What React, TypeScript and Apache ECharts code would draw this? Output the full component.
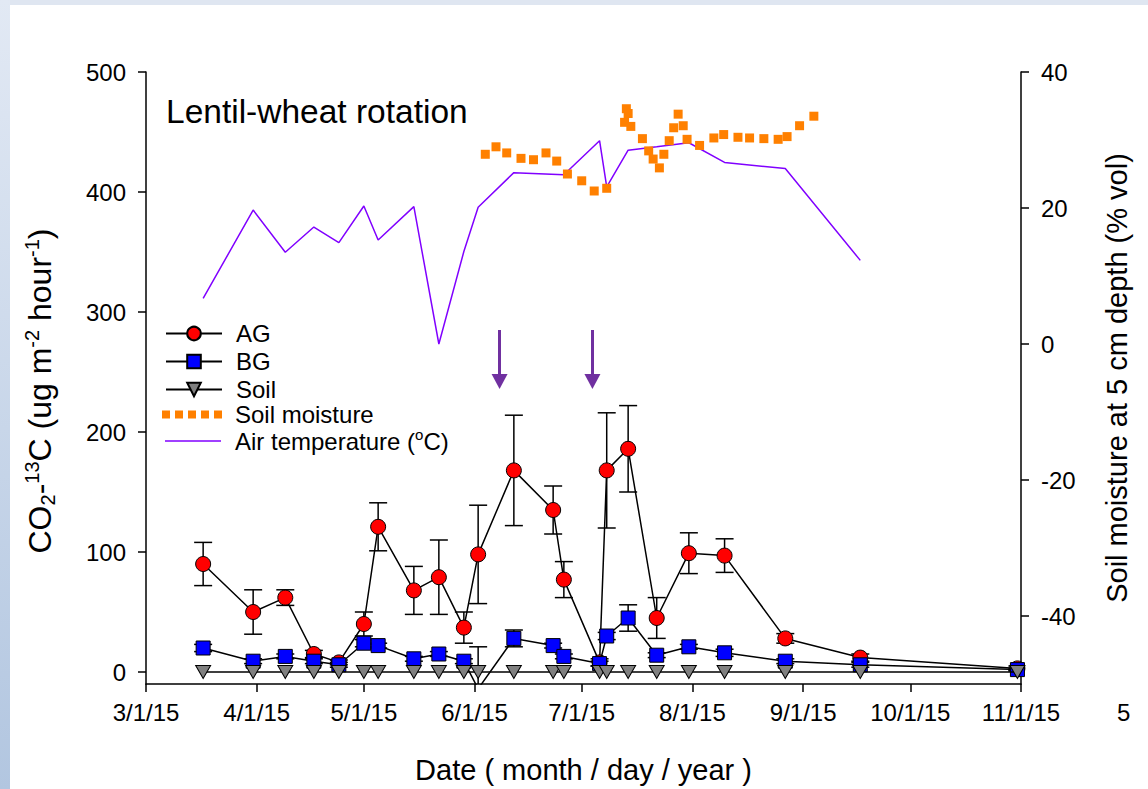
import React, { useEffect, useRef } from 'react';
import * as echarts from 'echarts';

// ---------- data ----------
const sampleDates = ['2015-03-17', '2015-03-31', '2015-04-09', '2015-04-17', '2015-04-24', '2015-05-01', '2015-05-05', '2015-05-15', '2015-05-22', '2015-05-29', '2015-06-02', '2015-06-12', '2015-06-23', '2015-06-26', '2015-07-06', '2015-07-08', '2015-07-14', '2015-07-22', '2015-07-31', '2015-08-10', '2015-08-27', '2015-09-17', '2015-10-31'];
const agMean = [90, 50, 62, 15, 8, 40, 121, 68, 79, 37, 98, 168, 135, 77, 8, 168, 186, 45, 99, 97, 28, 12, 3];
const agErr = [18, 18.5, 6.5, 3, 2, 10, 20, 20, 31, 13, 41, 46, 20, 15, 3, 48, 36, 17, 17, 14, 4, 3, 2];
const bgMean = [20, 9, 13, 9, 6, 24, 22, 11, 15, 9, -14, 28, 22, 13, 7, 30, 45, 14, 21, 16, 9, 6, 2];
const bgErr = [3, 2, 2, 2, 2, 3, 2, 2, 2, 2, 35, 7, 2, 2, 2, 3, 11, 2, 2, 3, 2, 2, 1];
const soilMean = [0, 0, 0, 0, 0, 0, 0, 0, 0, 0, 0, 0, 0, 0, 0, 0, 0, 0, 0, 0, 0, 0, 0];

const moistureDates = ['2015-06-04', '2015-06-07', '2015-06-10', '2015-06-14', '2015-06-17T12:00', '2015-06-21', '2015-06-24', '2015-06-27', '2015-07-01', '2015-07-04T12:00', '2015-07-08', '2015-07-13', '2015-07-13T12:00', '2015-07-14', '2015-07-14T18:00', '2015-07-18', '2015-07-19T18:00', '2015-07-21', '2015-07-22T18:00', '2015-07-24', '2015-07-25T12:00', '2015-07-26T18:00', '2015-07-28', '2015-07-29T10:00', '2015-07-30T12:00', '2015-08-03', '2015-08-07', '2015-08-09T18:00', '2015-08-13T18:00', '2015-08-17', '2015-08-21', '2015-08-25', '2015-08-27T12:00', '2015-08-31', '2015-09-04'];
const moistureValues = [27.9, 29.0, 28.1, 27.3, 27.1, 28.1, 26.9, 25.0, 24.0, 22.5, 22.9, 32.6, 34.6, 33.9, 32.0, 30.2, 28.4, 27.2, 25.9, 27.9, 29.9, 31.8, 33.8, 32.1, 30.1, 29.2, 30.3, 30.8, 30.4, 30.3, 30.2, 30.1, 30.5, 32.1, 33.5];

const tempDates = ['2015-03-17', '2015-03-31', '2015-04-09', '2015-04-17', '2015-04-24', '2015-05-01', '2015-05-05', '2015-05-15', '2015-05-22', '2015-05-29', '2015-06-02', '2015-06-12', '2015-06-26', '2015-07-06', '2015-07-08', '2015-07-14', '2015-07-22', '2015-07-31', '2015-08-10', '2015-08-27', '2015-09-17'];
const tempValues = [6.7, 19.7, 13.5, 17.2, 14.9, 20.3, 15.3, 20.2, 0.0, 13.6, 20.1, 25.2, 24.9, 29.9, 23.1, 28.5, 29.0, 29.6, 26.7, 25.8, 12.3];

const xTickDates = ['2015-03-01', '2015-04-01', '2015-05-01', '2015-06-01', '2015-07-01', '2015-08-01', '2015-09-01', '2015-10-01', '2015-11-01'];
const leftTicks = [0, 100, 200, 300, 400, 500];
const rightTicks = [-40, -20, 0, 20, 40];

const arrowDates = ['2015-06-08', '2015-07-04'];
const arrowFrom = 285;
const arrowTo = 242;

// ---------- helpers ----------
const ts = (s: string) => Date.parse(s.length === 10 ? s + 'T00:00:00Z' : s + ':00Z');
const FONT = "'Liberation Sans', Arial, Helvetica, sans-serif";

export default function App() {
  const ref = useRef<HTMLDivElement>(null);

  useEffect(() => {
    if (!ref.current) return;
    const chart = echarts.init(ref.current, null, { renderer: 'svg' });

    const errBar = (means: number[], errs: number[]) =>
      sampleDates.map((d, i) => [ts(d), means[i], errs[i]]);

    const renderErr = (params: any, api: any) => {
      const x = api.value(0);
      const m = api.value(1);
      const e = api.value(2);
      const top = api.coord([x, m + e]);
      const bot = api.coord([x, m - e]);
      const hw = 9;
      const st = { stroke: '#000', lineWidth: 1.5 };
      return {
        type: 'group',
        children: [
          { type: 'line', shape: { x1: top[0], y1: top[1], x2: bot[0], y2: bot[1] }, style: st },
          { type: 'line', shape: { x1: top[0] - hw, y1: top[1], x2: top[0] + hw, y2: top[1] }, style: st },
          { type: 'line', shape: { x1: bot[0] - hw, y1: bot[1], x2: bot[0] + hw, y2: bot[1] }, style: st },
        ],
      };
    };

    const axisLineStyle = { color: '#000', width: 1.5 };
    const labelBase = { color: '#000', fontSize: 24, fontFamily: FONT };

    const legendText = { color: '#000', fontSize: 24, fontFamily: FONT, lineHeight: 17, padding: [0, 0, 0, 9] };

    const option: any = {
      animation: false,
      backgroundColor: '#ffffff',
      title: {
        text: 'Lentil-wheat rotation',
        left: 166,
        top: 94,
        padding: 0,
        textStyle: { fontSize: 33.5, fontWeight: 'normal', color: '#000', fontFamily: FONT },
      },
      graphic: [
        { type: 'rect', left: 0, top: 0, shape: { width: 1148, height: 5 }, style: { fill: '#dfe6f1' }, silent: true },
        {
          type: 'rect', left: 0, top: 0, shape: { width: 10, height: 789 }, silent: true,
          style: {
            fill: new echarts.graphic.LinearGradient(0, 0, 0, 1, [
              { offset: 0, color: '#e2e9f4' },
              { offset: 1, color: '#b2c6e0' },
            ]),
          },
        },
        { type: 'text', left: 1117, top: 700, style: { text: '5', fontSize: 24, fill: '#000', fontFamily: FONT }, silent: true },
      ],
      grid: { left: 146, right: 127, top: 72, bottom: 105, containLabel: false, outerBoundsMode: 'none' },
      legend: [
        {
          data: ['AG', 'BG', 'Soil'],
          orient: 'vertical', left: 165, top: 321.5, padding: 0,
          itemWidth: 56, itemHeight: 17, itemGap: 4, selectedMode: false,
          textStyle: legendText,
        },
        {
          data: [{ name: 'Soil moisture', icon: 'path://M0,0h8v8h-8z M13,0h8v8h-8z M26,0h8v8h-8z M39,0h8v8h-8z M52,0h8v8h-8z' }],
          orient: 'vertical', left: 162, top: 402.5, padding: 0,
          itemWidth: 60, itemHeight: 8, selectedMode: false,
          textStyle: { ...legendText, padding: [0, 0, 0, 8] },
        },
        {
          data: [{ name: 'Air temperature', icon: 'path://M0,0h56v1.5h-56z' }],
          orient: 'vertical', left: 165, top: 426.5, padding: 0,
          itemWidth: 56, itemHeight: 1.5, selectedMode: false,
          formatter: () => 'Air temperature ({s|o}C)',
          textStyle: {
            ...legendText, lineHeight: 29,
            rich: { s: { fontSize: 15, lineHeight: 10, verticalAlign: 'top', color: '#000', fontFamily: FONT } },
          },
        },
      ],
      xAxis: {
        type: 'value',
        min: ts(xTickDates[0]),
        max: ts(xTickDates[xTickDates.length - 1]),
        axisLine: { show: true, onZero: false, lineStyle: axisLineStyle },
        axisTick: { show: true, length: 8, customValues: xTickDates.map(ts), lineStyle: axisLineStyle },
        axisLabel: {
          ...labelBase, margin: 16, customValues: xTickDates.map(ts),
          formatter: (v: number) => {
            const d = new Date(v);
            return `${d.getUTCMonth() + 1}/${d.getUTCDate()}/${String(d.getUTCFullYear()).slice(2)}`;
          },
        },
        splitLine: { show: false },
        name: 'Date ( month / day / year )',
        nameLocation: 'middle',
        nameGap: 69,
        nameTextStyle: { color: '#000', fontSize: 29, fontFamily: FONT, lineHeight: 34 },
      },
      yAxis: [
        {
          type: 'value', position: 'left', min: -10, max: 500,
          axisLine: { show: true, onZero: false, lineStyle: axisLineStyle },
          axisTick: { show: true, length: 8, customValues: leftTicks, lineStyle: axisLineStyle },
          axisLabel: { ...labelBase, margin: 20, customValues: leftTicks },
          splitLine: { show: false },
          name: '{a|CO}{b|2}{a|-}{c|13}{a|C (ug m}{c|-2}{a| hour}{c|-1}{a|)}',
          nameLocation: 'middle', nameRotate: 90, nameGap: 88,
          nameTextStyle: {
            color: '#000', fontSize: 32, fontFamily: FONT, padding: [0, 26, 0, 0],
            rich: {
              a: { fontSize: 32, lineHeight: 36, color: '#000', fontFamily: FONT },
              b: { fontSize: 20, lineHeight: 18, verticalAlign: 'bottom', color: '#000', fontFamily: FONT },
              c: { fontSize: 20, lineHeight: 15, verticalAlign: 'top', color: '#000', fontFamily: FONT },
            },
          },
        },
        {
          type: 'value', position: 'right', min: -50, max: 40,
          axisLine: { show: true, onZero: false, lineStyle: axisLineStyle },
          axisTick: { show: true, length: 8, customValues: rightTicks, lineStyle: axisLineStyle },
          axisLabel: { ...labelBase, margin: 20, customValues: rightTicks },
          splitLine: { show: false },
          name: 'Soil moisture at 5 cm depth (% vol)',
          nameLocation: 'middle', nameRotate: 90, nameGap: 79,
          nameTextStyle: { color: '#000', fontSize: 29, fontFamily: FONT, lineHeight: 34 },
        },
      ],
      series: [
        {
          name: 'AG err', type: 'custom', renderItem: renderErr, clip: true, z: 1,
          data: errBar(agMean, agErr), encode: { x: 0, y: 1 }, silent: true,
        },
        {
          name: 'BG err', type: 'custom', renderItem: renderErr, clip: true, z: 1,
          data: errBar(bgMean, bgErr), encode: { x: 0, y: 1 }, silent: true,
        },
        {
          name: 'Air temperature', type: 'line', yAxisIndex: 1, z: 2,
          data: tempDates.map((d, i) => [ts(d), tempValues[i]]),
          symbol: 'none', lineStyle: { color: '#8000ff', width: 1.5 }, itemStyle: { color: '#8000ff' },
        },
        {
          name: 'Soil moisture', type: 'scatter', yAxisIndex: 1, z: 3,
          data: moistureDates.map((d, i) => [ts(d), moistureValues[i]]),
          symbol: 'rect', symbolSize: 9, itemStyle: { color: '#ff8000', opacity: 1 },
        },
        {
          name: 'AG', type: 'line', z: 4,
          data: sampleDates.map((d, i) => [ts(d), agMean[i]]),
          symbol: 'circle', symbolSize: 15, showAllSymbol: true,
          lineStyle: { color: '#000', width: 1.5 },
          itemStyle: { color: '#ff0000', borderColor: '#000', borderWidth: 1 },
          markLine: {
            silent: true, symbol: ['none', 'triangle'], symbolSize: [16, 15],
            lineStyle: { color: '#7030a0', width: 3, type: 'solid' },
            label: { show: false },
            data: arrowDates.map((d) => [{ coord: [ts(d), arrowFrom] }, { coord: [ts(d), arrowTo] }]),
          },
        },
        {
          name: 'BG', type: 'line', z: 5,
          data: sampleDates.map((d, i) => [ts(d), bgMean[i]]),
          symbol: 'rect', symbolSize: 14, showAllSymbol: true,
          lineStyle: { color: '#000', width: 1.5 },
          itemStyle: { color: '#0000ff', borderColor: '#000', borderWidth: 1 },
        },
        {
          name: 'Soil', type: 'line', z: 6,
          data: sampleDates.map((d, i) => [ts(d), soilMean[i]]),
          symbol: 'path://M0,0L10,0L5,9Z', symbolSize: [15, 13], showAllSymbol: true,
          lineStyle: { color: '#000', width: 1.5 },
          itemStyle: { color: '#808080', borderColor: '#000', borderWidth: 1 },
        },
      ],
    };

    chart.setOption(option);
    return () => chart.dispose();
  }, []);

  return (
    <div
      ref={ref}
      style={{ position: 'fixed', left: 0, top: 0, width: 1148, height: 789, background: '#fff' }}
    />
  );
}
